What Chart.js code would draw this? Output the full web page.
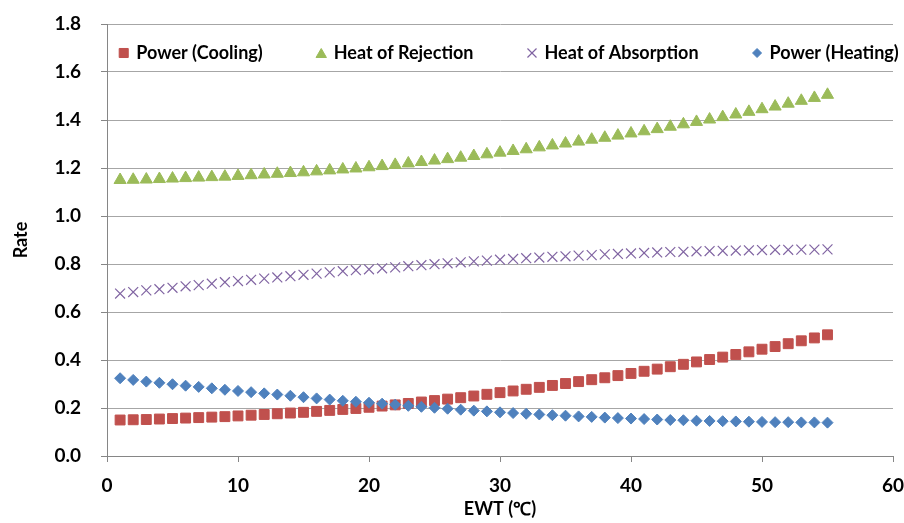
<!DOCTYPE html>
<html>
<head>
<meta charset="utf-8">
<script src="https://cdn.jsdelivr.net/npm/chart.js@4.4.1/dist/chart.umd.min.js"></script>
<style>
  html, body { margin: 0; padding: 0; background: #fff; }
  #wrap { width: 904px; height: 523px; }
</style>
</head>
<body>
<div id="wrap"><canvas id="chart"></canvas></div>
<script>
// EWT values (x)
const ewt = [1, 2, 3, 4, 5, 6, 7, 8, 9, 10, 11, 12, 13, 14, 15, 16, 17, 18, 19, 20,
  21, 22, 23, 24, 25, 26, 27, 28, 29, 30, 31, 32, 33, 34, 35, 36, 37, 38, 39, 40,
  41, 42, 43, 44, 45, 46, 47, 48, 49, 50, 51, 52, 53, 54, 55];

const powerCooling = [0.150, 0.151, 0.152, 0.154, 0.156, 0.158, 0.160, 0.162, 0.164, 0.167,
  0.170, 0.173, 0.176, 0.179, 0.182, 0.186, 0.190, 0.194, 0.198, 0.203,
  0.208, 0.213, 0.219, 0.225, 0.231, 0.237, 0.243, 0.250, 0.257, 0.264,
  0.271, 0.278, 0.286, 0.294, 0.302, 0.310, 0.318, 0.326, 0.335, 0.344,
  0.353, 0.362, 0.372, 0.382, 0.392, 0.402, 0.412, 0.423, 0.434, 0.445,
  0.456, 0.468, 0.480, 0.492, 0.505];

const heatRejection = [1.150, 1.151, 1.152, 1.154, 1.156, 1.158, 1.160, 1.162, 1.164, 1.167,
  1.170, 1.173, 1.176, 1.179, 1.182, 1.186, 1.190, 1.194, 1.198, 1.203,
  1.208, 1.213, 1.219, 1.225, 1.231, 1.237, 1.243, 1.250, 1.257, 1.264,
  1.271, 1.278, 1.286, 1.294, 1.302, 1.310, 1.318, 1.326, 1.335, 1.344,
  1.353, 1.362, 1.372, 1.382, 1.392, 1.402, 1.412, 1.423, 1.434, 1.445,
  1.456, 1.468, 1.480, 1.492, 1.505];

const heatAbsorption = [0.677, 0.683, 0.690, 0.695, 0.701, 0.707, 0.712, 0.718, 0.724, 0.729,
  0.734, 0.739, 0.744, 0.749, 0.755, 0.760, 0.765, 0.770, 0.774, 0.778,
  0.782, 0.786, 0.791, 0.795, 0.799, 0.803, 0.807, 0.811, 0.814, 0.818,
  0.821, 0.824, 0.827, 0.830, 0.832, 0.835, 0.837, 0.840, 0.842, 0.844,
  0.846, 0.848, 0.850, 0.851, 0.853, 0.854, 0.855, 0.856, 0.857, 0.858,
  0.859, 0.859, 0.860, 0.860, 0.861];

const powerHeating = [0.324, 0.317, 0.310, 0.305, 0.299, 0.293, 0.288, 0.282, 0.276, 0.271,
  0.266, 0.261, 0.256, 0.251, 0.245, 0.240, 0.235, 0.230, 0.226, 0.222,
  0.218, 0.214, 0.209, 0.205, 0.201, 0.197, 0.193, 0.189, 0.186, 0.182,
  0.179, 0.176, 0.173, 0.170, 0.168, 0.165, 0.163, 0.160, 0.158, 0.156,
  0.154, 0.152, 0.150, 0.149, 0.147, 0.146, 0.145, 0.144, 0.143, 0.142,
  0.141, 0.141, 0.140, 0.140, 0.139];

const seriesNames = ["Power (Cooling)", "Heat of Rejection", "Heat of Absorption", "Power (Heating)"];

const toPoints = (ys) => ewt.map((x, i) => ({ x: x, y: ys[i] }));

const FONT = "Lato, 'Open Sans', sans-serif";

// legend sits inside the plot, between the 1.8 and 1.6 gridlines
const inPlotLegend = {
  id: "inPlotLegend",
  afterDraw(chart) {
    const c = chart.ctx;
    const a = chart.chartArea;
    const gap = 8, box = 9;
    c.save();
    c.font = "bold 18px " + FONT;
    const items = chart.data.datasets.map((ds) => ({
      ds: ds,
      w: box + gap + c.measureText(ds.label).width,
    }));
    const spacing = 54;
    const total = items.reduce((s, it) => s + it.w, 0) + spacing * (items.length - 1);
    let x = (a.left + a.right) / 2 + 9 - total / 2;
    const y = a.top + 29;
    items.forEach((it) => {
      const ds = it.ds;
      const style = ds.pointStyle;
      const r = style === "rectRot" ? 4.5 : style === "triangle" ? 6 : 6.4;
      c.fillStyle = ds.backgroundColor;
      c.strokeStyle = ds.borderColor;
      c.lineWidth = ds.borderWidth;
      Chart.helpers.drawPoint(c, {
        pointStyle: style,
        radius: r,
        borderWidth: ds.borderWidth,
      }, x + box / 2, style === "triangle" ? y + 1.5 : y);
      c.fillStyle = "#000";
      c.textBaseline = "middle";
      c.textAlign = "left";
      c.fillText(ds.label, x + box + gap, y);
      x += it.w + spacing;
    });
    c.restore();
  },
};

const ctx = document.getElementById("chart");
new Chart(ctx, {
  type: "scatter",
  data: {
    datasets: [
      {
        label: seriesNames[0],
        data: toPoints(powerCooling),
        pointStyle: "rect",
        pointRadius: 7,
        backgroundColor: "#C0504D",
        borderColor: "#C0504D",
        borderWidth: 1,
        order: 3,
      },
      {
        label: seriesNames[1],
        data: toPoints(heatRejection),
        pointStyle: "triangle",
        pointRadius: 7,
        backgroundColor: "#9BBB59",
        borderColor: "#9BBB59",
        borderWidth: 1,
        order: 2,
      },
      {
        label: seriesNames[2],
        data: toPoints(heatAbsorption),
        pointStyle: "crossRot",
        pointRadius: 7,
        backgroundColor: "#8064A2",
        borderColor: "#8064A2",
        borderWidth: 1.2,
        order: 1,
      },
      {
        label: seriesNames[3],
        data: toPoints(powerHeating),
        pointStyle: "rectRot",
        pointRadius: 5.5,
        backgroundColor: "#4F81BD",
        borderColor: "#4F81BD",
        borderWidth: 1,
        order: 0,
      },
    ],
  },
  options: {
    responsive: true,
    maintainAspectRatio: false,
    animation: false,
    layout: { padding: { top: 24, right: 11, left: 0, bottom: 0 } },
    plugins: {
      tooltip: { enabled: false },
      legend: { display: false },
    },
    scales: {
      x: {
        type: "linear",
        min: 0,
        max: 60,
        afterFit: (scale) => {
          scale.height = 67;
          scale.paddingLeft = 0;
          scale.paddingRight = 0;
        },
        grid: {
          drawOnChartArea: false,
          drawTicks: true,
          tickLength: 6,
          tickColor: "#868686",
        },
        border: { color: "#868686" },
        ticks: {
          stepSize: 10,
          padding: 12,
          maxRotation: 0,
          color: "#000",
          font: { family: FONT, size: 19, weight: "bold" },
        },
        title: {
          display: true,
          text: "EWT (℃)",
          color: "#000",
          padding: { top: 0, bottom: 3 },
          font: { family: FONT, size: 18, weight: "bold" },
        },
      },
      y: {
        min: 0,
        max: 1.8,
        afterFit: (scale) => {
          scale.width = 107;
          scale.paddingTop = 0;
          scale.paddingBottom = 0;
        },
        grid: {
          color: "#a6a6a6",
          drawTicks: true,
          tickLength: 6,
          tickColor: "#868686",
        },
        border: { color: "#868686" },
        ticks: {
          stepSize: 0.2,
          padding: 20,
          color: "#000",
          font: { family: FONT, size: 19, weight: "bold" },
          callback: (v) => v.toFixed(1),
        },
        title: {
          display: true,
          text: "Rate",
          color: "#000",
          padding: { top: 10, bottom: 0 },
          font: { family: FONT, size: 18, weight: "bold" },
        },
      },
    },
  },
  plugins: [inPlotLegend],
});
</script>
</body>
</html>
